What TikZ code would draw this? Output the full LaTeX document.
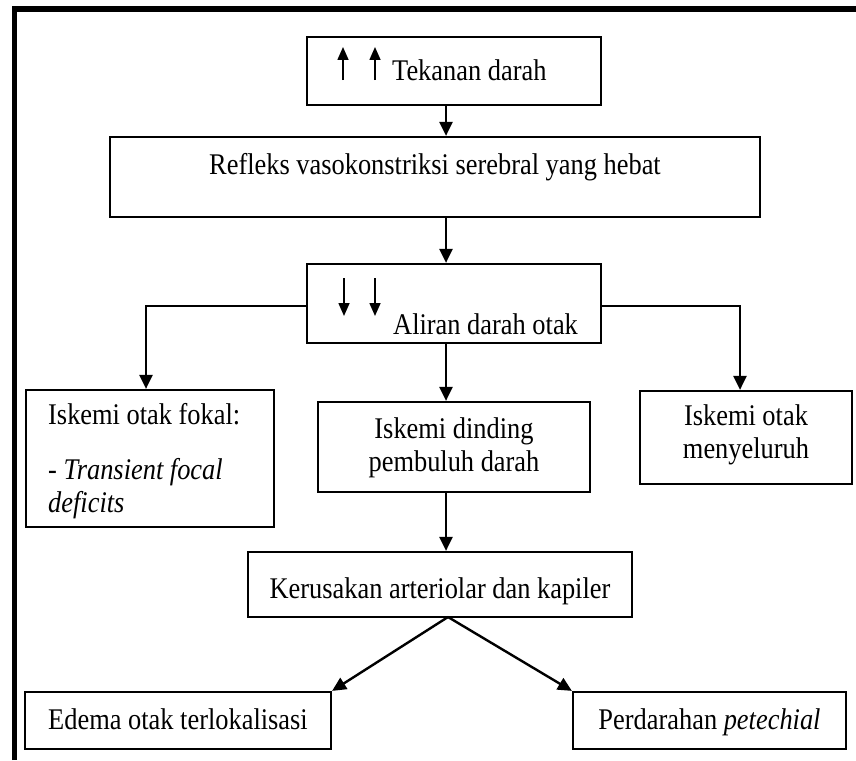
\documentclass[tikz,border=0pt]{standalone}
\usepackage{fontspec}
\setmainfont[FakeStretch=0.88]{Liberation Serif}
\usetikzlibrary{arrows.meta}
\begin{document}
\begin{tikzpicture}[x=1pt,y=-1pt,
  box/.style={draw, line width=2.2pt, inner sep=0pt, rectangle},
  txt/.style={anchor=base, inner sep=0pt, font=\fontsize{30}{34}\selectfont},
  txtw/.style={anchor=base west, inner sep=0pt, font=\fontsize{30}{34}\selectfont},
  conn/.style={line width=2.4pt, -{Triangle[width=13pt,length=14pt]}},
  glyph/.style={line width=1.6pt, -{Triangle[width=11pt,length=13pt]}}]
\useasboundingbox (0,0) rectangle (856,760);
\fill[white] (0,0) rectangle (856,760);
% frame
\draw[line width=5pt] (14.5,760) -- (14.5,6);
\draw[line width=6pt] (12,9) -- (856,9);
% spine coordinate
\coordinate (spine) at (446,0);
% boxes
\node[box, minimum width=294pt, minimum height=68pt] (b1) at (454,71) {};
\node[box, minimum width=650pt, minimum height=80pt] (b2) at (435,177) {};
\node[box, minimum width=294pt, minimum height=79pt] (b3) at (454,303.5) {};
\node[box, minimum width=248pt, minimum height=137pt] (bl) at (150,458.5) {};
\node[box, minimum width=272pt, minimum height=90pt] (bm) at (454,447) {};
\node[box, minimum width=212pt, minimum height=93pt] (br) at (746,437.5) {};
\node[box, minimum width=384pt, minimum height=65pt] (bk) at (440,584.5) {};
\node[box, minimum width=306pt, minimum height=57pt] (be) at (178,720.5) {};
\node[box, minimum width=273pt, minimum height=57pt] (bp) at (709.5,720.5) {};
% texts
\coordinate (u1b) at (343,80); \coordinate (u1t) at (343,47);
\coordinate (u2b) at (375,80); \coordinate (u2t) at (375,47);
\draw[glyph] (u1b) -- (u1t);
\draw[glyph] (u2b) -- (u2t);
\node[txtw] (t1) at (392,81) {Tekanan darah};
\node[txt] (t2) at (435,174) {Refleks vasokonstriksi serebral yang hebat};
\coordinate (d1t) at (344,278); \coordinate (d1b) at (344,316);
\coordinate (d2t) at (375,278); \coordinate (d2b) at (375,316);
\draw[glyph] (d1t) -- (d1b);
\draw[glyph] (d2t) -- (d2b);
\node[txtw] (t3) at (393,334) {Aliran darah otak};
\node[txtw] (tl1) at (48,424) {Iskemi otak fokal:};
\node[txtw] (tl2) at (48,479) {- \textit{Transient focal}};
\node[txtw] (tl3) at (48,512) {\textit{deficits}};
\node[txt] (tm1) at (454,438) {Iskemi dinding};
\node[txt] (tm2) at (454,471) {pembuluh darah};
\node[txt] (tr1) at (746,425) {Iskemi otak};
\node[txt] (tr2) at (746,458) {menyeluruh};
\node[txt] (tk) at (440,598) {Kerusakan arteriolar dan kapiler};
\node[txt] (te) at (178,729) {Edema otak terlokalisasi};
\node[txt] (tp) at (709.5,729) {Perdarahan \textit{petechial}};
% connectors
\coordinate (lx) at (146,306);
\coordinate (rx) at (740,306);
\draw[conn] (b1.south -| spine) -- (b2.north -| spine);
\draw[conn] (b2.south -| spine) -- (b3.north -| spine);
\draw[conn] (b3.west |- lx) -- (lx) -- (bl.north -| lx);
\draw[conn] (b3.east |- rx) -- (rx) -- (br.north -| rx);
\draw[conn] (b3.south -| spine) -- (bm.north -| spine);
\draw[conn] (bm.south -| spine) -- (bk.north -| spine);
\coordinate (apex) at (448,617);
\draw[conn] (apex) -- (be.north east);
\draw[conn] (apex) -- (bp.north west);
\end{tikzpicture}
\end{document}
